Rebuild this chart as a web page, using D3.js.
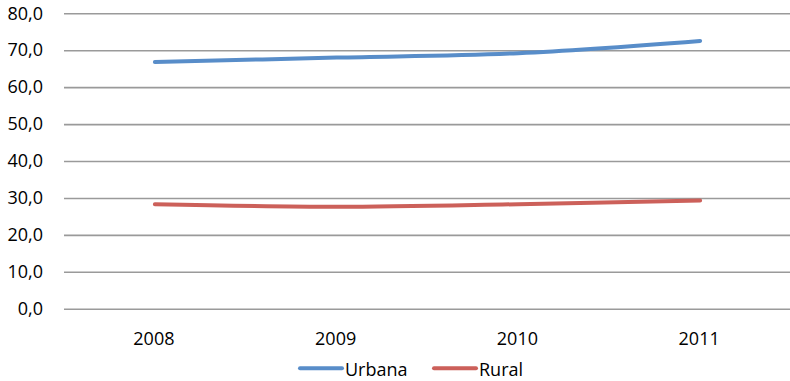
<!DOCTYPE html>
<html>
<head>
<meta charset="utf-8">
<script src="https://cdn.jsdelivr.net/npm/d3@7"></script>
<style>
  html, body { margin: 0; padding: 0; background: #fff; }
  svg { display: block; }
  text { font-family: "Open Sans", "Liberation Sans", sans-serif; fill: #000; }
</style>
</head>
<body>
<svg id="chart" width="790" height="381"></svg>
<script>
// Years on the category axis
const years = ["2008", "2009", "2010", "2011"];
// Share of population (%) by area
const urbana = [66.8, 68.0, 69.2, 72.5];
const rural = [28.3, 27.6, 28.3, 29.3];
// Series names and colours
const seriesNames = ["Urbana", "Rural"];
const seriesColors = ["#588dc9", "#cc605a"];
// Value-axis ticks
const yTicks = [0, 10, 20, 30, 40, 50, 60, 70, 80];

const svg = d3.select("#chart");
const W = 790, H = 381;
const plot = { left: 64, right: 791, top: 13.3, bottom: 308.7 };

const x = d3.scaleBand().domain(years).range([plot.left, plot.right]);
const y = d3.scaleLinear().domain([0, 80]).range([plot.bottom, plot.top]);

const fmt = v => d3.format(".1f")(v).replace(".", ",");

// Horizontal gridlines (the 0 line doubles as the category axis)
const yAxis = d3.axisLeft(y).tickValues(yTicks).tickSize(-(plot.right - plot.left)).tickFormat(fmt).tickPadding(21);
const gy = svg.append("g").attr("transform", `translate(${plot.left},0)`).call(yAxis);
gy.select(".domain").remove();
gy.selectAll(".tick line").attr("stroke", "#9a9a9a").attr("stroke-width", 1.6);
gy.selectAll(".tick text").attr("font-size", 18).attr("fill", "#000")
  .style("font-family", '"Open Sans", "Liberation Sans", sans-serif');

// Category labels
const xAxis = d3.axisBottom(x).tickSize(0).tickPadding(0);
const gx = svg.append("g").attr("transform", `translate(-1,${plot.bottom})`).call(xAxis);
gx.select(".domain").remove();
gx.selectAll(".tick text").attr("font-size", 18).attr("fill", "#000").attr("dy", 0).attr("y", 36)
  .style("font-family", '"Open Sans", "Liberation Sans", sans-serif');

// Smoothed series lines
const line = d3.line()
  .x((d, i) => x(years[i]) + x.bandwidth() / 2)
  .y(d => y(d))
  .curve(d3.curveCatmullRom.alpha(0.5));

[urbana, rural].forEach((vals, k) => {
  svg.append("path")
    .datum(vals)
    .attr("d", line)
    .attr("fill", "none")
    .attr("stroke", seriesColors[k])
    .attr("stroke-width", 4)
    .attr("stroke-linecap", "round")
    .attr("stroke-linejoin", "round");
});

// Legend
const legendX = [300, 434];
const legendY = 368.3;
seriesNames.forEach((name, k) => {
  const g = svg.append("g").attr("transform", `translate(${legendX[k]},${legendY})`);
  g.append("line").attr("x1", 0).attr("x2", 42).attr("y1", 0).attr("y2", 0)
    .attr("stroke", seriesColors[k]).attr("stroke-width", 4).attr("stroke-linecap", "round");
  g.append("text").attr("x", 45).attr("y", 8).attr("font-size", 18).text(name);
});
</script>
</body>
</html>
